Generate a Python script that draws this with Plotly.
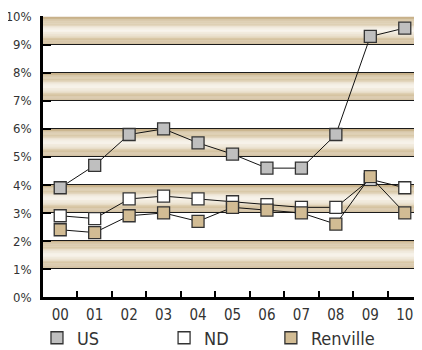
import plotly.graph_objects as go

years = ["00", "01", "02", "03", "04", "05", "06", "07", "08", "09", "10"]
us = [3.9, 4.7, 5.8, 6.0, 5.5, 5.1, 4.6, 4.6, 5.8, 9.3, 9.6]
nd = [2.9, 2.8, 3.5, 3.6, 3.5, 3.4, 3.3, 3.2, 3.2, 4.2, 3.9]
renville = [2.4, 2.3, 2.9, 3.0, 2.7, 3.2, 3.1, 3.0, 2.6, 4.3, 3.0]
y_ticks = list(range(0, 11))
y_tick_text = ["0%", "1%", "2%", "3%", "4%", "5%", "6%", "7%", "8%", "9%", "10%"]
bands = [(1, 2), (3, 4), (5, 6), (7, 8), (9, 10)]

FONT = "DejaVu Sans Condensed, Liberation Sans Narrow, Arial Narrow, sans-serif"
TXT = "#333333"

series = [
    ("US", us, "#bfbfbf", "legend"),
    ("ND", nd, "#ffffff", "legend2"),
    ("Renville", renville, "#d2bc94", "legend3"),
]

fig = go.Figure()
for name, vals, col, lg in series:
    fig.add_trace(go.Scatter(
        x=years, y=vals, mode="lines+markers", name=name, showlegend=False,
        line=dict(color="#111111", width=1),
        marker=dict(symbol="square", size=12, color=col,
                    line=dict(color="#333333", width=1.3)),
    ))
for name, vals, col, lg in series:
    fig.add_trace(go.Scatter(
        x=[None], y=[None], mode="markers", name=name, showlegend=True, legend=lg,
        marker=dict(symbol="square", size=12, color=col,
                    line=dict(color="#333333", width=1.3)),
    ))

# gradient bands (styling only)
stops = [(0.0, (198, 175, 135)), (0.2, (214, 196, 162)), (0.5, (249, 245, 238)),
         (0.78, (216, 198, 165)), (1.0, (198, 176, 137))]

def grad(t):
    for (t0, c0), (t1, c1) in zip(stops[:-1], stops[1:]):
        if t0 <= t <= t1:
            f = (t - t0) / (t1 - t0)
            return "rgb(%d,%d,%d)" % tuple(round(a + (b - a) * f) for a, b in zip(c0, c1))
    return "rgb(%d,%d,%d)" % stops[-1][1]

N = 24
shapes = []
for lo, hi in bands:
    for i in range(N):
        y1 = hi - (hi - lo) * i / N
        y0 = hi - (hi - lo) * (i + 1) / N
        shapes.append(dict(type="rect", xref="paper", yref="y", x0=0, x1=1,
                           y0=y0, y1=y1, fillcolor=grad((i + 0.5) / N),
                           line=dict(width=0), layer="below"))

leg_common = dict(orientation="h", xanchor="left", xref="container", yref="container",
                  y=0.035, yanchor="middle",
                  font=dict(size=18, family=FONT, color=TXT), bgcolor="rgba(0,0,0,0)")

fig.update_layout(
    width=414, height=342,
    margin=dict(l=35, r=0, t=8, b=53, autoexpand=False),
    paper_bgcolor="white", plot_bgcolor="white",
    font=dict(family=FONT, color=TXT, size=14),
    shapes=shapes,
    xaxis=dict(type="category", range=[-0.5, 10.5], showline=True, linecolor="#000000",
               linewidth=2.5, ticks="inside", tickson="boundaries", ticklen=6,
               tickwidth=2, tickcolor="#000000", showgrid=False, automargin=False,
               tickfont=dict(size=15, family=FONT, color=TXT), ticklabelstandoff=2),
    yaxis=dict(range=[0, 10.03], tickvals=y_ticks, ticktext=y_tick_text, showline=True,
               linecolor="#000000", linewidth=2.5, ticks="inside", ticklen=8,
               tickwidth=2, tickcolor="#000000", showgrid=True, gridcolor="#1a1a1a",
               gridwidth=1, zeroline=False, automargin=False,
               tickfont=dict(size=13, family=FONT, color=TXT), ticklabelstandoff=6),
    legend=dict(x=0.070, **leg_common),
    legend2=dict(x=0.377, **leg_common),
    legend3=dict(x=0.635, **leg_common),
)

fig.write_html("out.html")
